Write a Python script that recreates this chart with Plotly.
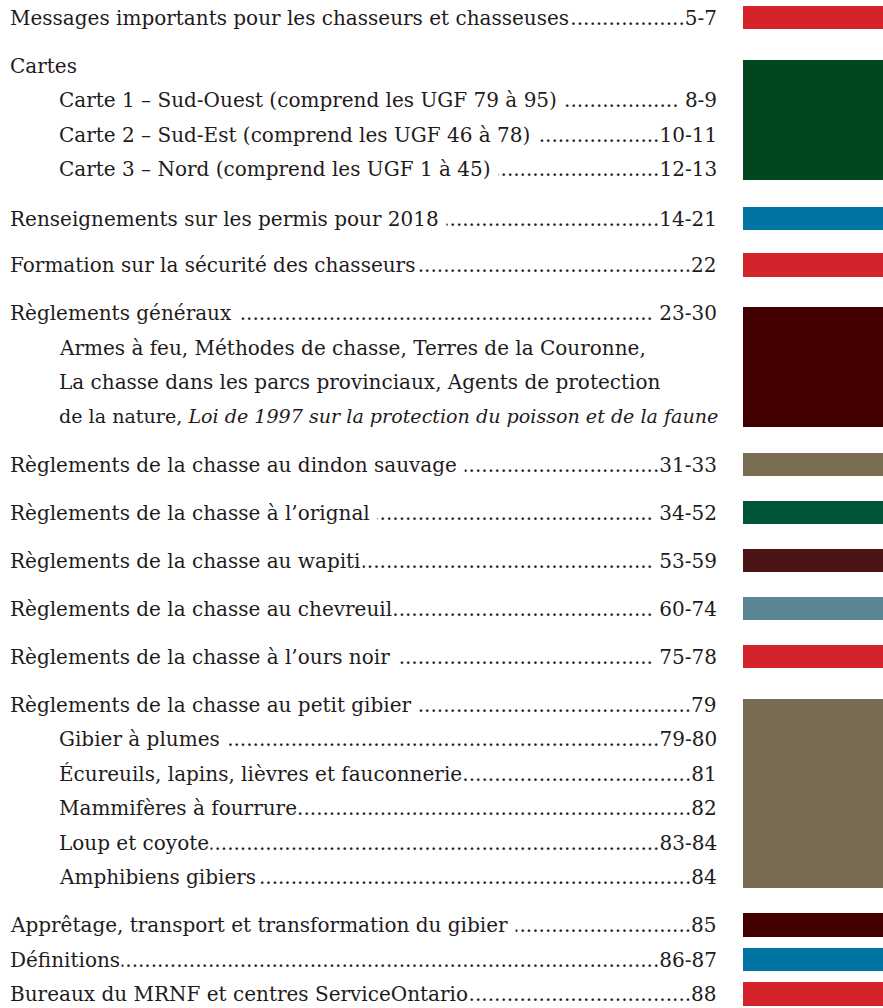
import plotly.graph_objects as go

# ---------------- data ----------------
entry_labels = [
    "Messages importants pour les chasseurs et chasseuses",
    "Cartes",
    "Carte 1 – Sud-Ouest (comprend les UGF 79 à 95)\u00a0",
    "Carte 2 – Sud-Est (comprend les UGF 46 à 78)\u00a0",
    "Carte 3 – Nord (comprend les UGF 1 à 45)\u00a0",
    "Renseignements sur les permis pour 2018\u00a0",
    "Formation sur la sécurité des chasseurs",
    "Règlements généraux\u00a0",
    "Armes à feu, Méthodes de chasse, Terres de la Couronne,",
    "La chasse dans les parcs provinciaux, Agents de protection",
    "de la nature, <i>Loi de 1997 sur la protection du poisson et de la faune</i>",
    "Règlements de la chasse au dindon sauvage\u00a0",
    "Règlements de la chasse à l’orignal\u00a0",
    "Règlements de la chasse au wapiti",
    "Règlements de la chasse au chevreuil",
    "Règlements de la chasse à l’ours noir\u00a0",
    "Règlements de la chasse au petit gibier\u00a0",
    "Gibier à plumes\u00a0",
    "Écureuils, lapins, lièvres et fauconnerie",
    "Mammifères à fourrure",
    "Loup et coyote",
    "Amphibiens gibiers",
    "Apprêtage, transport et transformation du gibier\u00a0",
    "Définitions",
    "Bureaux du MRNF et centres ServiceOntario",
]
entry_pages = ["5-7", "", "\u00a08-9", "10-11", "12-13", "14-21", "22", "\u00a023-30",
               "", "", "", "31-33", "\u00a034-52", "\u00a053-59", "\u00a060-74", "\u00a075-78",
               "79", "79-80", "81", "82", "83-84", "84", "85", "86-87", "88"]
entry_indent = [0, 0, 1, 1, 1, 0, 0, 0, 1, 1, 1, 0, 0, 0, 0, 0, 0, 1, 1, 1, 1, 1, 0, 0, 0]
entry_group = [0, 1, 1, 1, 1, 2, 3, 4, 4, 4, 4, 5, 6, 7, 8, 9, 10, 10, 10, 10, 10, 10, 11, 12, 13]
group_colors = ["#D4232A", "#00471F", "#0074A2", "#D4232A", "#420000", "#796E52", "#00563B",
                "#4B1416", "#5A8595", "#D4232A", "#786D52", "#420000", "#0074A2", "#D4232A"]
tight_groups = [12, 13]

# ---------------- layout constants ----------------
W, H = 883, 1008
FONT = "DejaVu Serif"
FS = 20
TXT = "#1e1b1c"
LINE_STEP = 34.5
GROUP_STEP = 48
FIRST_Y = 17.5
LEFT_X = [8, 57]
PAGE_RIGHT = 718
BAR_X0, BAR_X1 = 743, 883
DOT_EM = 0.318       # approx advance of "." in DejaVu Serif (em)
DIGIT_EM = 0.636
HYPH_EM = 0.338
SPACE_EM = 0.318


def page_width(p):
    w = 0
    for ch in p:
        if ch.isdigit():
            w += DIGIT_EM
        elif ch == "-":
            w += HYPH_EM
        else:
            w += SPACE_EM
    return w * FS


# compute line centres
ys = []
y = FIRST_Y
for i, g in enumerate(entry_group):
    if i > 0:
        if g == entry_group[i - 1] or g in tight_groups:
            y += LINE_STEP
        else:
            y += GROUP_STEP
    ys.append(y)
# small optical adjustment observed in the reference for the permits line
ys[5] += 1.5

# group bar extents
n_groups = len(group_colors)
bar_base, bar_len = [], []
for g in range(n_groups):
    gy = [ys[i] for i in range(len(ys)) if entry_group[i] == g]
    if len(gy) == 1:
        top, bot = gy[0] - 11.75, gy[0] + 11.75
    else:
        top, bot = gy[0] - 6.0, gy[-1] + 10.5
    bar_base.append(top)
    bar_len.append(bot - top)

fig = go.Figure()
fig.add_trace(go.Bar(
    x=[(BAR_X0 + BAR_X1) / 2] * n_groups,
    y=bar_len,
    base=bar_base,
    width=BAR_X1 - BAR_X0,
    marker=dict(color=group_colors, line=dict(width=0)),
    hoverinfo="skip",
    showlegend=False,
))

annotations = []
font = dict(family=FONT, size=FS, color=TXT)
# dot leaders + page numbers (drawn first); leaders start inside the label area
for i, lab in enumerate(entry_labels):
    if entry_pages[i]:
        span = PAGE_RIGHT - page_width(entry_pages[i]) - (LEFT_X[entry_indent[i]] + 40)
        n_dots = int(span / (DOT_EM * FS))
        annotations.append(dict(
            x=PAGE_RIGHT, y=ys[i], xref="x", yref="y", xanchor="right", yanchor="middle",
            text="." * n_dots + entry_pages[i], showarrow=False, font=font, borderpad=0))
# labels with white background covering the leaders underneath
for i, lab in enumerate(entry_labels):
    f = dict(font)
    if "<i>" in lab:
        f["size"] = 19.1
    annotations.append(dict(
        x=LEFT_X[entry_indent[i]], y=ys[i], xref="x", yref="y", xanchor="left", yanchor="middle",
        text=lab, showarrow=False, font=f, bgcolor="white", borderpad=1))

fig.update_layout(
    width=W, height=H,
    margin=dict(l=0, r=0, t=0, b=0),
    paper_bgcolor="white", plot_bgcolor="white",
    xaxis=dict(range=[0, W], visible=False, fixedrange=True),
    yaxis=dict(range=[H, 0], visible=False, fixedrange=True),
    annotations=annotations,
    bargap=0,
)
fig.write_html(
    "out.html",
    config={"displayModeBar": False, "staticPlot": True},
    post_script="document.body.style.margin='0';document.body.style.overflow='hidden';",
)
